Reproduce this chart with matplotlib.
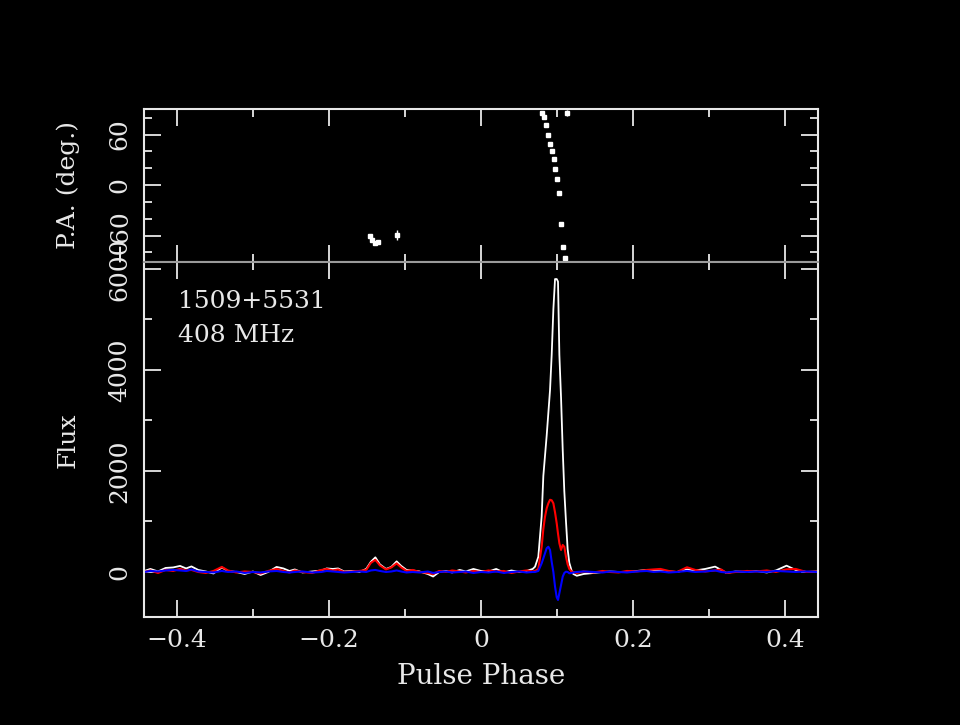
import numpy as np
import matplotlib
matplotlib.use('Agg')
import matplotlib.pyplot as plt
from matplotlib.ticker import MultipleLocator

# pulse phase grid
phase = [-0.443, -0.435, -0.425, -0.415, -0.405, -0.396, -0.388, -0.381, -0.372, -0.362,
         -0.352, -0.341, -0.333, -0.322, -0.311, -0.300, -0.290, -0.280, -0.269, -0.260,
         -0.252, -0.245, -0.235, -0.222, -0.210, -0.203, -0.195, -0.188, -0.180, -0.170,
         -0.160, -0.151, -0.145, -0.139, -0.133, -0.125, -0.118, -0.111, -0.105, -0.098,
         -0.090, -0.081, -0.070, -0.063, -0.055, -0.046, -0.038, -0.028, -0.020, -0.010,
         0.000, 0.010, 0.020, 0.030, 0.040, 0.050, 0.060, 0.068,
         0.0711, 0.0754, 0.0798, 0.0820, 0.0842, 0.0864, 0.0886, 0.0908, 0.0930, 0.0952,
         0.0974, 0.0996, 0.1013, 0.1031, 0.1053, 0.1075, 0.1096, 0.1118, 0.1140, 0.1162,
         0.1193, 0.1215,
         0.126, 0.135, 0.148, 0.160, 0.170, 0.181, 0.192, 0.205, 0.218, 0.227,
         0.236, 0.247, 0.258, 0.271, 0.282, 0.295, 0.308, 0.316, 0.323, 0.335,
         0.350, 0.362, 0.376, 0.388, 0.402, 0.414, 0.428, 0.443]

# total intensity (white)
flux_I = [20, 60, 10, 80, 90, 120, 70, 110, 40, 10,
          -30, 90, 20, 0, -40, 10, -60, 0, 100, 70,
          20, 50, -10, 10, 30, 70, 60, 70, 10, 20,
          0, 60, 200, 290, 150, 60, 100, 210, 120, 40,
          30, 10, -40, -90, 0, 20, -10, 40, 10, 60,
          20, 10, 60, -10, 30, 0, 20, 60,
          105, 300, 1100, 1900, 2300, 2700, 3150, 3600, 4300, 5200,
          5800, 5800, 5750, 4300, 3450, 2420, 1600, 1000, 450, 180,
          20, -40,
          -75, -40, -20, 0, 10, 0, 0, 20, 40, 30,
          20, 10, 0, 50, 30, 60, 106, 40, -20, 10,
          0, 20, -10, 30, 125, 40, 0, 10]

# linear polarisation (red)
flux_L = [0, 30, -20, 40, 20, 60, 30, 40, 0, -20,
          20, 100, 30, -10, 10, 0, -30, 20, 60, 20,
          -10, 30, 0, -20, 40, 60, 30, 50, 0, 10,
          20, 40, 180, 240, 130, 50, 90, 170, 90, 20,
          40, 0, -20, -40, 20, 0, 30, 10, -10, 20,
          0, 30, 10, 20, -20, 10, 30, 10,
          20, 60, 500, 850, 1095, 1260, 1360, 1430, 1420, 1360,
          1180, 964, 760, 568, 436, 535, 500, 303, 150, 60,
          6, 0,
          -20, 10, -10, 20, 0, -10, 20, 10, 40, 50,
          60, 20, 0, 93, 40, 10, 30, 50, -20, 0,
          20, 10, 30, 0, 53, 60, 0, 10]

# circular polarisation (blue)
flux_V = [0, 20, 10, 30, 40, 30, 20, 50, 10, 0,
          -10, 20, 0, 10, -20, 0, -10, 10, 20, 0,
          -10, 0, 10, -10, 0, 20, 10, 0, -10, 0,
          10, 0, 30, 40, 20, 0, 10, 30, 10, -10,
          0, -10, 10, -20, 0, 10, -10, 0, 10, -20,
          0, -10, 10, -20, 0, 10, -10, 0,
          0, 20, 172, 270, 370, 470, 500, 436, 200, 0,
          -291, -500, -554, -420, -260, -93, -20, 6, 0, -26,
          -20, -10,
          0, 10, 0, -10, 10, 0, -10, 10, 20, 0,
          10, -10, 0, 20, 0, 10, 30, 0, -10, 10,
          0, 10, 0, 20, 10, 0, 10, 0]

# position angle points
pa_phase = [-0.146, -0.143, -0.139, -0.136, -0.1105,
            0.0803, 0.0829, 0.0855, 0.0882, 0.0908, 0.0934, 0.0961, 0.0974,
            0.1000, 0.1026, 0.1053, 0.1079, 0.1105, 0.1132]
pa_deg = [-60.6, -65.3, -68.9, -67.7, -59.4,
          85.5, 80.8, 71.3, 59.4, 48.7, 40.4, 30.9, 19.0,
          7.1, -9.5, -46.3, -73.7, -86.7, 85.5]
pa_err = [2, 2, 2, 2, 6,
          1.5, 1, 1, 1, 1, 1, 1, 1,
          1, 1, 2, 2, 2, 4]

xtick_vals = [-0.4, -0.2, 0, 0.2, 0.4]
xtick_labels = ['\u22120.4', '\u22120.2', '0', '0.2', '0.4']

fg = '#e8e8e8'
plt.rcParams['font.family'] = ['DejaVu Serif']
plt.rcParams['font.size'] = 18

fig = plt.figure(figsize=(9.6, 7.25), dpi=100, facecolor='black')
ax_pa = fig.add_axes([0.15, 0.6386, 0.7021, 0.211], facecolor='black')
ax = fig.add_axes([0.15, 0.149, 0.7021, 0.4897], facecolor='black')

for a in (ax_pa, ax):
    for s in a.spines.values():
        s.set_color(fg)
        s.set_linewidth(1.5)
    a.tick_params(which='both', direction='in', top=True, right=True,
                  colors=fg, labelcolor=fg, width=1.3)
    a.tick_params(which='major', length=12)
    a.tick_params(which='minor', length=6)
    a.tick_params(axis='y', labelrotation=90, pad=9)
    a.tick_params(axis='x', pad=9)
    a.set_xlim(-0.4434, 0.4434)
    a.xaxis.set_minor_locator(MultipleLocator(0.1))
    a.set_xticks(xtick_vals)
ax_pa.spines['bottom'].set_color('#9a9a9a')
ax.spines['top'].set_color('#9a9a9a')

# top panel: position angle
ax_pa.errorbar(pa_phase, pa_deg, yerr=pa_err, fmt='s', color='white',
               markersize=2.2, elinewidth=1, capsize=0, linestyle='none')
ax_pa.set_ylim(-91.5, 90.3)
ax_pa.set_yticks([-60, 0, 60])
ax_pa.set_yticklabels(['\u221260', '0', '60'])
ax_pa.yaxis.set_minor_locator(MultipleLocator(20))
ax_pa.tick_params(axis='x', labelbottom=False)
for lab in ax_pa.get_yticklabels():
    lab.set_va('center')

# bottom panel: profiles
ax.plot(phase, flux_I, color='white', lw=1.3)
ax.plot(phase, flux_L, color='#ff0000', lw=1.5)
ax.plot(phase, flux_V, color='#0000ff', lw=1.5)
ax.set_ylim(-891, 6139)
ax.set_yticks([0, 2000, 4000, 6000])
ax.yaxis.set_minor_locator(MultipleLocator(1000))
ax.set_xticklabels(xtick_labels)
for lab in ax.get_yticklabels():
    lab.set_va('center')

ax.text(0.05, 0.870, '1509+5531', transform=ax.transAxes, color=fg,
        fontsize=18, va='baseline', ha='left')
ax.text(0.05, 0.7755, '408 MHz', transform=ax.transAxes, color=fg,
        fontsize=18, va='baseline', ha='left')

fig.text(68 / 960, 1 - 185 / 725, 'P.A. (deg.)', rotation=90, color=fg,
         ha='center', va='center', fontsize=18)
fig.text(68 / 960, 1 - 440 / 725, 'Flux', rotation=90, color=fg,
         ha='center', va='center', fontsize=18)
fig.text(481 / 960, 1 - 677 / 725, 'Pulse Phase', color=fg,
         ha='center', va='center', fontsize=20)

fig.savefig('out.png', dpi=100, facecolor='black')
